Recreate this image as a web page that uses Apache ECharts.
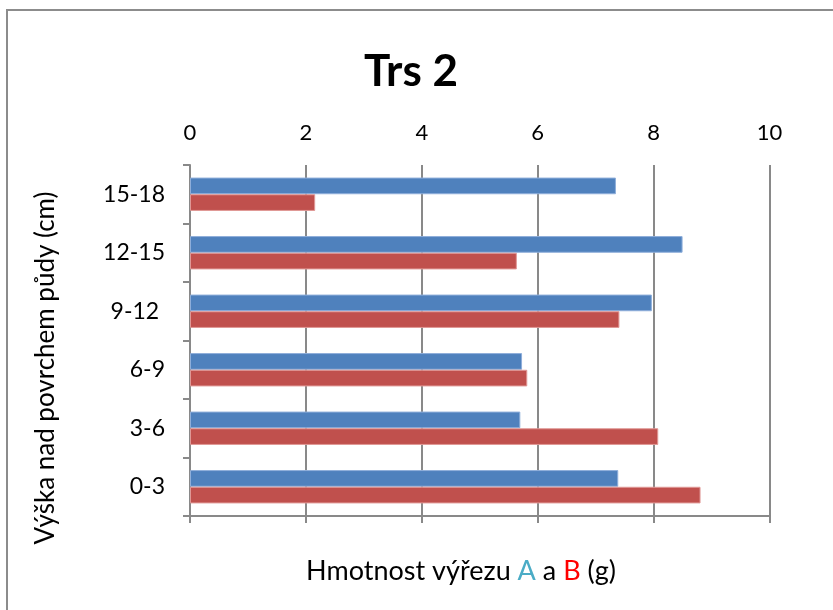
<!DOCTYPE html>
<html>
<head>
<meta charset="utf-8">
<script src="https://cdn.jsdelivr.net/npm/echarts@6/dist/echarts.min.js"></script>
<style>
  html, body { margin: 0; padding: 0; background: #fff; }
  #chart { width: 833px; height: 610px; }
</style>
</head>
<body>
<div id="chart"></div>
<script>
// Height bands above the soil surface (cm), bottom to top
const categories = ['0-3', '3-6', '6-9', '9-12 ', '12-15', '15-18'];
// Cut-section mass (g) for samples A and B
const seriesA = [7.39, 5.70, 5.73, 7.97, 8.50, 7.35];
const seriesB = [8.81, 8.08, 5.82, 7.41, 5.64, 2.16];
// Value axis ticks
const valueTicks = [0, 2, 4, 6, 8, 10];

const FONT = 'Lato';
const GRID_GRAY = '#898989';

const chart = echarts.init(document.getElementById('chart'), null, { renderer: 'canvas' });

chart.setOption({
  animation: false,
  backgroundColor: '#fff',
  textStyle: { fontFamily: FONT },
  title: [
    {
      text: 'Trs 2',
      left: 406, top: 45,
      textAlign: 'center',
      textStyle: { fontFamily: FONT, fontSize: 44, fontWeight: 'bold', color: '#000' }
    },
    {
      text: '{t|Hmotnost výřezu }{a|A}{t| a }{b|B}{t| (g)}',
      left: 456, top: 553,
      textAlign: 'center',
      textStyle: {
        fontWeight: 'normal',
        rich: {
          t: { fontFamily: FONT, fontSize: 27, fontWeight: 'normal', color: '#000' },
          a: { fontFamily: FONT, fontSize: 27, fontWeight: 'normal', color: '#4BACC6' },
          b: { fontFamily: FONT, fontSize: 27, fontWeight: 'normal', color: '#FF0000' }
        }
      }
    }
  ],
  graphic: [
    {
      type: 'rect',
      shape: { x: 7, y: 10, width: 900, height: 700 },
      style: { fill: 'none', stroke: '#8c8c8c', lineWidth: 2 },
      silent: true
    },
    {
      // vertical axis title
      type: 'text',
      x: 46, y: 368,
      rotation: Math.PI / 2,
      style: {
        text: 'Výška nad povrchem půdy (cm)',
        fontFamily: FONT, fontSize: 26, fill: '#000',
        align: 'center', verticalAlign: 'middle'
      },
      silent: true
    }
  ],
  grid: { left: 190, right: 63.5, top: 165, bottom: 94, containLabel: false },
  xAxis: [
    {
      type: 'value',
      position: 'top',
      min: valueTicks[0],
      max: valueTicks[valueTicks.length - 1],
      interval: valueTicks[1] - valueTicks[0],
      axisLine: { show: false },
      axisTick: { show: false },
      axisLabel: { fontFamily: FONT, fontSize: 22, color: '#000', margin: 21 },
      splitLine: { show: true, lineStyle: { color: GRID_GRAY, width: 2 } }
    },
    {
      type: 'value',
      position: 'bottom',
      min: valueTicks[0],
      max: valueTicks[valueTicks.length - 1],
      interval: valueTicks[1] - valueTicks[0],
      axisLine: { show: true, lineStyle: { color: GRID_GRAY, width: 2 } },
      axisTick: { show: true, length: 7, lineStyle: { color: GRID_GRAY, width: 2 } },
      axisLabel: { show: false },
      splitLine: { show: false }
    }
  ],
  yAxis: {
    type: 'category',
    data: categories,
    axisLine: { show: true, lineStyle: { color: GRID_GRAY, width: 2 } },
    axisTick: { show: true, length: 7, lineStyle: { color: GRID_GRAY, width: 2 } },
    axisLabel: { fontFamily: FONT, fontSize: 23, color: '#000', margin: 25 },
    splitLine: { show: false }
  },
  series: [
    {
      name: 'A',
      type: 'bar',
      xAxisIndex: 0,
      data: seriesA,
      barGap: '0%',
      barCategoryGap: '43%',
      itemStyle: { color: '#4F81BD', borderColor: '#8EAEDA', borderWidth: 1 }
    },
    {
      name: 'B',
      type: 'bar',
      xAxisIndex: 0,
      data: seriesB,
      barGap: '0%',
      barCategoryGap: '43%',
      itemStyle: { color: '#C0504D', borderColor: '#E09896', borderWidth: 1 }
    }
  ]
});
</script>
</body>
</html>
